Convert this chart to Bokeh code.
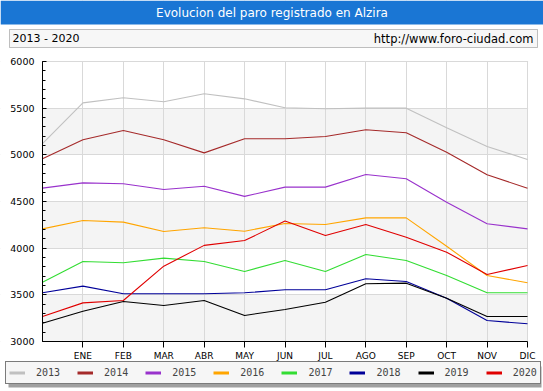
from bokeh.plotting import figure
from bokeh.models import (FixedTicker, BoxAnnotation, Legend, LegendItem, Range1d, Label)
from bokeh.embed import file_html
from bokeh.resources import INLINE

# ---------------- data ----------------
title_text = "Evolucion del paro registrado en Alzira"
period_text = "2013 - 2020"
url_text = "http://www.foro-ciudad.com"

months = ["ENE", "FEB", "MAR", "ABR", "MAY", "JUN", "JUL", "AGO", "SEP", "OCT", "NOV", "DIC"]
years = ["2013", "2014", "2015", "2016", "2017", "2018", "2019", "2020"]

# first value = December of previous year, then ENE..DIC
v2013 = [5120, 5557, 5611, 5568, 5654, 5600, 5504, 5493, 5500, 5500, 5290, 5090, 4950]
v2014 = [4957, 5161, 5261, 5161, 5021, 5172, 5172, 5196, 5268, 5236, 5028, 4786, 4643]
v2015 = [4643, 4700, 4690, 4629, 4664, 4555, 4654, 4654, 4789, 4743, 4493, 4261, 4207]
v2016 = [4207, 4296, 4279, 4179, 4218, 4182, 4265, 4254, 4325, 4325, 4021, 3707, 3629]
v2017 = [3636, 3857, 3843, 3893, 3857, 3750, 3868, 3750, 3932, 3868, 3707, 3522, 3522]
v2018 = [3522, 3593, 3511, 3511, 3511, 3522, 3554, 3554, 3672, 3643, 3464, 3225, 3190]
v2019 = [3196, 3325, 3429, 3386, 3439, 3279, 3343, 3421, 3618, 3625, 3464, 3268, 3268]
v2020 = [3268, 3414, 3439, 3807, 4030, 4082, 4290, 4136, 4254, 4118, 3957, 3718, 3814]
series = [v2013, v2014, v2015, v2016, v2017, v2018, v2019, v2020]

colors = ["#c0c0c0", "#a52a2a", "#9932cc", "#ffa500", "#33dd33", "#000099", "#000000", "#e00000"]

y_ticks = [3000, 3500, 4000, 4500, 5000, 5500, 6000]
y_minor = list(range(3000, 6001, 100))

# ---------------- layout (canvas pixels, top-down) ----------------
W, H = 543, 391
PL, PR, PT, PB = 42, 527, 61, 341     # plot area edges
FONT = "DejaVu Sans"
n = len(months)
ymin, ymax = y_ticks[0], y_ticks[-1]
kx = n / (PR - PL)
ky = (ymax - ymin) / (PB - PT)


def sy(Y):  # top-down canvas y -> bottom-up screen y
    return H - Y


x = list(range(n + 1))
p = figure(width=W, height=H, output_backend="svg", toolbar_location=None,
           x_range=Range1d(0 - PL * kx, n + (W - PR) * kx),
           y_range=Range1d(ymin - (H - PB) * ky, ymax + PT * ky),
           min_border=0, min_border_left=0, min_border_right=0,
           min_border_top=0, min_border_bottom=0,
           outline_line_color=None, background_fill_color="white", border_fill_color="white")

# alternating bands
for lo, hi in zip(y_ticks[0::2], y_ticks[1::2]):
    p.add_layout(BoxAnnotation(left=0, right=n, bottom=lo, top=hi, fill_color="#f4f4f4",
                               fill_alpha=1, line_color=None, level="image"))

p.xgrid.ticker = FixedTicker(ticks=list(range(1, n + 1)))
p.ygrid.ticker = FixedTicker(ticks=y_ticks)
p.grid.grid_line_color = "#d9d9d9"
p.grid.grid_line_width = 1

# white masks so the grid stays inside the plot area
for kw in (dict(bottom=ymax + 0.6 * ky), dict(top=ymin), dict(right=0), dict(left=n + 0.6 * kx)):
    p.add_layout(BoxAnnotation(fill_color="white", fill_alpha=1, line_color=None,
                               level="underlay", **kw))

# axes drawn at the plot-area edges
p.xaxis.fixed_location = ymin
p.xaxis.bounds = (0, n)
p.xaxis.ticker = FixedTicker(ticks=list(range(1, n + 1)))
p.xaxis.major_label_overrides = {i + 1: m for i, m in enumerate(months)}
p.xaxis.major_tick_in = 0
p.xaxis.major_tick_out = 6
p.xaxis.minor_tick_line_color = None
p.xaxis.major_label_standoff = 3
p.xaxis.major_label_text_font = FONT
p.xaxis.major_label_text_font_size = "9px"
p.xaxis.major_label_text_color = "black"
p.xaxis.axis_line_color = "black"

p.yaxis.fixed_location = 0
p.yaxis.bounds = (ymin, ymax)
p.yaxis.ticker = FixedTicker(ticks=y_ticks, minor_ticks=y_minor)
p.yaxis.major_tick_in = 4
p.yaxis.major_tick_out = 0
p.yaxis.minor_tick_in = 3
p.yaxis.minor_tick_out = 0
p.yaxis.major_label_standoff = 8
p.yaxis.major_label_text_font = FONT
p.yaxis.major_label_text_font_size = "9.5px"
p.yaxis.major_label_text_color = "black"
p.yaxis.axis_line_color = "black"

items = []
for yr, vals, c in zip(years, series, colors):
    p.line(x=x, y=vals, line_color=c, line_width=1.1)
    swatch = p.line(x=x, y=vals, line_color=c, line_width=3, visible=False)
    items.append(LegendItem(label=yr, renderers=[swatch]))

# ---------------- header ----------------
p.add_layout(BoxAnnotation(left=0, right=W, top=sy(0), bottom=sy(24),
                           left_units="screen", right_units="screen",
                           top_units="screen", bottom_units="screen",
                           fill_color="#1a76d4", fill_alpha=1, line_color=None))
p.add_layout(Label(x=W / 2, y=sy(12), x_units="screen", y_units="screen",
                   text=title_text, text_color="white", text_font=FONT,
                   text_font_size="12px", text_align="center", text_baseline="middle"))
p.add_layout(BoxAnnotation(left=9, right=537, top=sy(29), bottom=sy(47),
                           left_units="screen", right_units="screen",
                           top_units="screen", bottom_units="screen",
                           fill_color="#f7f7f7", fill_alpha=1,
                           line_color="#333333", line_width=1))
p.add_layout(Label(x=12, y=sy(38), x_units="screen", y_units="screen",
                   text=period_text, text_color="black", text_font=FONT,
                   text_font_size="11px", text_align="left", text_baseline="middle"))
p.add_layout(Label(x=533, y=sy(38), x_units="screen", y_units="screen",
                   text=url_text, text_color="black", text_font=FONT,
                   text_font_size="11.5px", text_align="right", text_baseline="middle"))

# ---------------- legend ----------------
p.add_layout(BoxAnnotation(left=8, right=541, top=sy(366), bottom=sy(387),
                           left_units="screen", right_units="screen",
                           top_units="screen", bottom_units="screen",
                           fill_color="#a0a0a0", fill_alpha=1, line_color=None))
legend = Legend(items=items, orientation="horizontal", location=(5, sy(384)),
                label_text_font="DejaVu Sans Mono", label_text_font_size="10px",
                glyph_width=16, glyph_height=15, label_height=15, label_standoff=11,
                spacing=17, padding=3, margin=0,
                border_line_color="black", border_line_width=1,
                background_fill_color="#f6f6f6", background_fill_alpha=1,
                inactive_fill_alpha=0)
p.add_layout(legend, "center")

open("out.html", "w").write(file_html(p, INLINE))
